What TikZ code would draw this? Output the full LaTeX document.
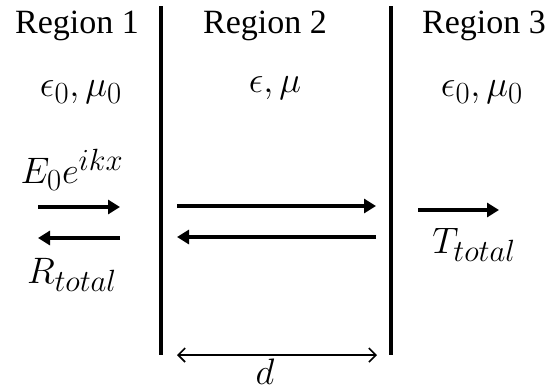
\documentclass[tikz,border=0pt]{standalone}
\usepackage{fontspec}
\setmainfont{Liberation Serif}
\usetikzlibrary{arrows.meta}
\begin{document}
\begin{tikzpicture}[x=1pt,y=-1pt,
  wall/.style={line width=3.5pt},
  wave/.style={line width=3.5pt,-{Triangle[length=12pt,width=14pt]}},
  dim/.style={line width=1.6pt,{Straight Barb[length=7pt,width=14pt]}-{Straight Barb[length=7pt,width=14pt]}},
  lab/.style={font=\fontsize{34}{40}\selectfont,inner sep=0pt},
  mlab/.style={font=\Huge,scale=1.48,transform shape,inner sep=0pt}]
\useasboundingbox (0,0) rectangle (553,391);
% walls
\coordinate (w1t) at (161,6); \coordinate (w1b) at (161,355);
\coordinate (w2t) at (391,6); \coordinate (w2b) at (391,355);
\draw[wall] (w1t) -- (w1b);
\draw[wall] (w2t) -- (w2b);
% labels
\node[lab] (r1) at (77,26) {Region 1};
\node[lab] (r2) at (265,26) {Region 2};
\node[lab] (r3) at (484,26) {Region 3};
\node[mlab] (m1) at (81,92) {$\epsilon_0, \mu_0$};
\node[mlab] (m2) at (275,88) {$\epsilon, \mu$};
\node[mlab] (m3) at (482,92) {$\epsilon_0, \mu_0$};
\node[mlab] (inc) at (72,170) {$E_0e^{ikx}$};
\node[mlab] (ref) at (72,275) {$R_{total}$};
\node[mlab] (tra) at (474,245) {$T_{total}$};
\node[mlab] (dl) at (265,372) {$d$};
% arrows
\coordinate (a1s) at (38,207); \coordinate (a1e) at (120,207);
\coordinate (a2s) at (120,238); \coordinate (a2e) at (38,238);
\coordinate (b1s) at (177,206); \coordinate (b1e) at (376,206);
\coordinate (b2s) at (376,237); \coordinate (b2e) at (177,237);
\coordinate (c1s) at (418,210); \coordinate (c1e) at (499,210);
\coordinate (ds) at (177,355); \coordinate (de) at (377,355);
\draw[wave] (a1s) -- (a1e);
\draw[wave] (a2s) -- (a2e);
\draw[wave] (b1s) -- (b1e);
\draw[wave] (b2s) -- (b2e);
\draw[wave] (c1s) -- (c1e);
\draw[dim] (ds) -- (de);
\end{tikzpicture}
\end{document}
